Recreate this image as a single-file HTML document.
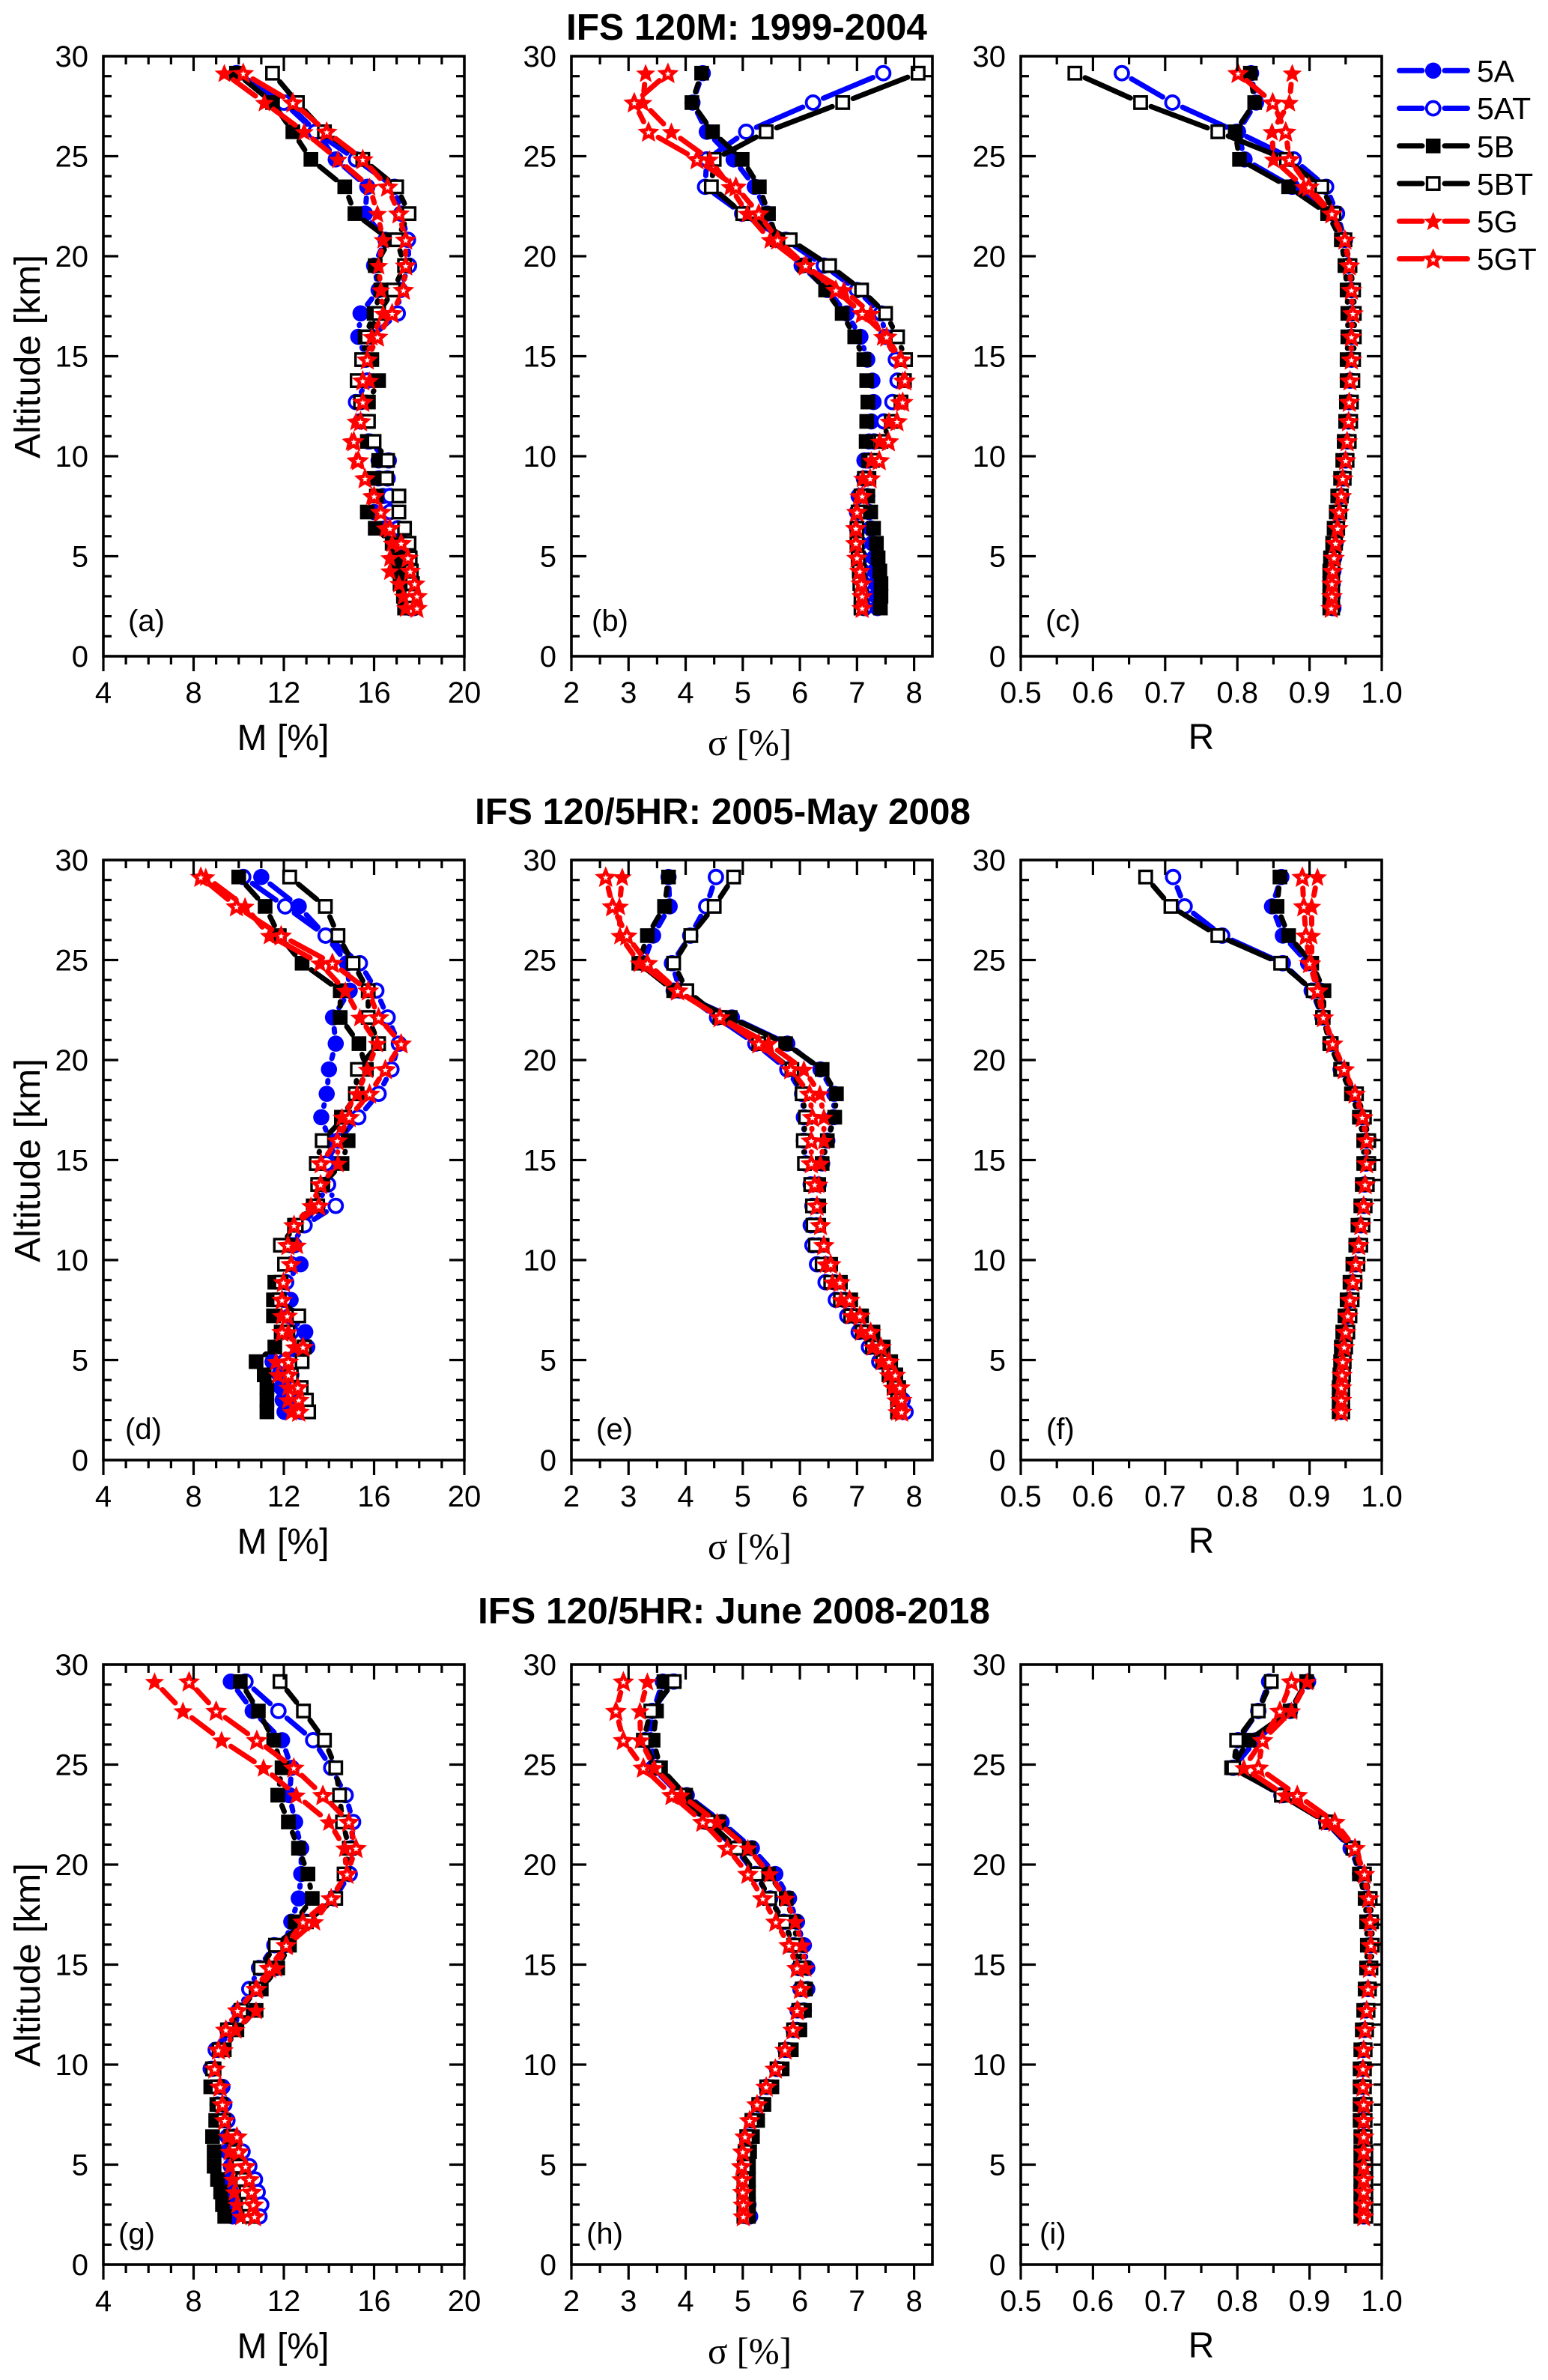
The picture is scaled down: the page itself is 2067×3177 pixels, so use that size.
<!DOCTYPE html>
<html lang="en">
<head>
<meta charset="utf-8">
<title>IFS validation profiles</title>
<style>
html,body{margin:0;padding:0;background:#fff;}
svg{display:block;}
text{font-family:"Liberation Sans",Arial,sans-serif;fill:#000;}
.tick{font-size:40px;}
.title{font-size:49px;font-weight:bold;}
.xl{font-size:48px;}
.sig{font-family:"Liberation Serif",serif;font-size:50px;}
.pl{font-size:40px;}
.leg{font-size:41px;}
</style>
</head>
<body>
<svg id="figure" xmlns="http://www.w3.org/2000/svg" width="2067" height="3177" viewBox="0 0 2067 3177">
  <rect x="0" y="0" width="2067" height="3177" fill="#fff"/>
  <g id="plots"></g>

  <text class="title" x="997" y="53" text-anchor="middle" textLength="482" lengthAdjust="spacingAndGlyphs">IFS 120M: 1999-2004</text>
  <text class="title" x="965" y="1100" text-anchor="middle" textLength="662" lengthAdjust="spacingAndGlyphs">IFS 120/5HR: 2005-May 2008</text>
  <text class="title" x="980" y="2167" text-anchor="middle" textLength="684" lengthAdjust="spacingAndGlyphs">IFS 120/5HR: June 2008-2018</text>

  <text class="xl" transform="translate(53 476) rotate(-90)" text-anchor="middle" textLength="272" lengthAdjust="spacingAndGlyphs">Altitude [km]</text>
  <text class="xl" transform="translate(53 1549) rotate(-90)" text-anchor="middle" textLength="272" lengthAdjust="spacingAndGlyphs">Altitude [km]</text>
  <text class="xl" transform="translate(53 2623) rotate(-90)" text-anchor="middle" textLength="272" lengthAdjust="spacingAndGlyphs">Altitude [km]</text>

  <text class="xl" x="378" y="1001" text-anchor="middle" textLength="123" lengthAdjust="spacingAndGlyphs">M [%]</text>
  <text class="xl" x="378" y="2074" text-anchor="middle" textLength="123" lengthAdjust="spacingAndGlyphs">M [%]</text>
  <text class="xl" x="378" y="3148" text-anchor="middle" textLength="123" lengthAdjust="spacingAndGlyphs">M [%]</text>

  <text class="sig" x="1001" y="1008" text-anchor="middle" textLength="112" lengthAdjust="spacingAndGlyphs">σ [%]</text>
  <text class="sig" x="1001" y="2081" text-anchor="middle" textLength="112" lengthAdjust="spacingAndGlyphs">σ [%]</text>
  <text class="sig" x="1001" y="3155" text-anchor="middle" textLength="112" lengthAdjust="spacingAndGlyphs">σ [%]</text>

  <text class="xl" x="1604" y="1000" text-anchor="middle">R</text>
  <text class="xl" x="1604" y="2073" text-anchor="middle">R</text>
  <text class="xl" x="1604" y="3147" text-anchor="middle">R</text>

  <text class="pl" x="171" y="842">(a)</text>
  <text class="pl" x="790" y="842">(b)</text>
  <text class="pl" x="1396" y="842">(c)</text>
  <text class="pl" x="167" y="1921">(d)</text>
  <text class="pl" x="796" y="1921">(e)</text>
  <text class="pl" x="1397" y="1921">(f)</text>
  <text class="pl" x="158" y="2995">(g)</text>
  <text class="pl" x="783" y="2995">(h)</text>
  <text class="pl" x="1388" y="2995">(i)</text>

  <g id="legend">
    <text class="leg" x="1972" y="109">5A</text>
    <text class="leg" x="1972" y="159">5AT</text>
    <text class="leg" x="1972" y="210">5B</text>
    <text class="leg" x="1972" y="260">5BT</text>
    <text class="leg" x="1972" y="310">5G</text>
    <text class="leg" x="1972" y="360">5GT</text>
  </g>
</svg>

<script>
// Shared altitude levels (km)
const levels=[29.15,27.68,26.22,24.84,23.47,22.13,20.82,19.53,18.31,17.14,15.97,14.83,13.78,12.71,11.74,10.74,9.79,8.89,8.01,7.21,6.40,5.65,4.92,4.26,3.63,3.00,2.41];

// Panel (a) M [%], 1999-2004
const a5A=[9.9,12.1,13.45,14.3,15.7,15.6,16.5,16.0,16.2,15.4,15.3,15.65,15.7,15.4,15.4,15.8,16.2,16.2,16.4,16.0,16.5,16.9,17.05,17.1,17.2,17.35,17.6];
const a5AT=[9.9,12.0,13.4,15.2,16.9,17.2,17.5,17.55,17.15,17.05,15.9,15.6,15.7,15.2,15.4,15.75,16.65,16.6,16.7,16.7,17.05,17.3,17.45,17.5,17.6,17.65,17.75];
const a5B=[9.9,11.5,12.4,13.2,14.7,15.15,16.7,16.05,16.3,16.0,15.6,15.9,16.2,15.75,15.6,15.7,16.2,16.0,16.1,15.7,16.05,16.8,17.0,17.1,17.15,17.3,17.35];
const a5BT=[11.5,12.6,13.8,15.5,17.0,17.55,17.0,17.35,16.85,16.2,15.7,15.45,15.25,15.4,15.75,16.0,16.6,16.55,17.1,17.1,17.35,17.55,17.6,17.65,17.7,17.65,17.6];
const a5G=[9.36,11.14,12.9,14.4,15.8,16.15,16.4,16.2,16.3,16.4,15.9,15.7,15.8,15.5,15.2,15.0,15.2,15.6,15.9,16.25,16.5,16.8,16.7,16.7,17.1,17.3,17.4];
const a5GT=[10.2,12.4,13.9,15.5,16.6,17.1,17.4,17.4,17.3,16.8,16.15,15.7,15.5,15.5,15.4,15.1,15.3,15.6,16.0,16.3,16.7,17.2,17.5,17.6,17.8,17.9,17.9];

// Panel (b) sigma [%], 1999-2004
const b5A=[4.3,4.12,4.37,4.84,5.21,5.43,5.6,6.03,6.48,6.82,7.06,7.18,7.27,7.29,7.25,7.21,7.13,7.15,7.18,7.21,7.24,7.27,7.3,7.31,7.33,7.34,7.36];
const b5AT=[7.46,6.23,5.06,4.37,4.34,4.99,5.75,6.42,7.0,7.42,7.5,7.68,7.71,7.62,7.47,7.3,7.2,7.12,7.03,7.0,7.0,7.04,7.06,7.09,7.11,7.12,7.13];
const b5B=[4.28,4.11,4.47,4.99,5.29,5.45,5.6,6.08,6.45,6.74,6.96,7.12,7.17,7.19,7.17,7.16,7.2,7.21,7.19,7.24,7.29,7.34,7.37,7.4,7.42,7.42,7.41];
const b5BT=[8.07,6.75,5.41,4.5,4.45,5.0,5.83,6.52,7.08,7.5,7.71,7.85,7.83,7.77,7.6,7.42,7.27,7.13,7.07,7.02,7.0,7.0,7.02,7.04,7.05,7.07,7.07];
const b5G=[3.3,3.25,3.75,4.42,4.78,5.08,5.48,6.07,6.77,7.24,7.45,7.74,7.8,7.74,7.56,7.4,7.25,7.1,7.03,6.98,6.97,6.97,7.0,7.03,7.06,7.08,7.08];
const b5GT=[3.69,3.1,3.35,4.2,4.88,5.28,5.61,6.1,6.63,7.09,7.52,7.77,7.84,7.8,7.7,7.55,7.39,7.23,7.09,7.0,6.98,6.98,7.0,7.05,7.08,7.09,7.09];

// Panel (c) R, 1999-2004
const c5A=[.819,.826,.801,.81,.876,.933,.948,.953,.958,.958,.958,.958,.957,.955,.954,.953,.95,.947,.944,.941,.936,.936,.933,.932,.931,.932,.932];
const c5AT=[.64,.71,.799,.878,.923,.938,.949,.954,.958,.959,.958,.958,.956,.955,.954,.953,.95,.947,.944,.941,.938,.936,.934,.933,.932,.932,.933];
const c5B=[.818,.824,.797,.803,.871,.925,.944,.949,.952,.953,.953,.952,.952,.951,.95,.948,.946,.943,.939,.937,.934,.932,.929,.928,.928,.928,.928];
const c5BT=[.575,.666,.773,.868,.917,.934,.949,.956,.961,.962,.962,.961,.96,.958,.957,.955,.952,.948,.944,.942,.939,.936,.933,.932,.932,.932,.932];
const c5G=[.876,.872,.848,.85,.892,.93,.949,.955,.958,.959,.958,.957,.956,.955,.954,.952,.949,.946,.943,.941,.938,.936,.934,.932,.931,.93,.93];
const c5GT=[.801,.849,.867,.872,.899,.931,.949,.955,.958,.96,.958,.958,.956,.955,.954,.952,.95,.946,.944,.941,.939,.936,.934,.932,.931,.931,.93];

// Panel (d) M [%], 2005-May 2008
const d5A=[11.0,12.66,13.85,14.8,14.92,14.18,14.3,14.0,13.9,13.66,14.03,14.1,13.9,13.5,12.85,12.47,12.74,12.1,12.3,12.25,12.95,13.04,11.5,11.8,11.88,11.95,12.03];
const d5AT=[10.2,12.06,13.85,15.37,16.1,16.6,17.1,16.77,16.2,15.3,14.4,13.88,13.96,14.3,12.92,12.33,12.33,12.1,12.03,12.33,12.33,12.85,12.03,12.33,12.5,12.7,12.78];
const d5B=[10.0,11.17,11.8,12.81,14.5,14.5,15.33,15.66,15.25,14.55,14.85,14.58,13.73,13.3,12.47,12.18,12.03,11.6,11.54,11.54,11.88,11.6,10.77,11.13,11.25,11.25,11.25];
const d5BT=[12.26,13.84,14.4,15.07,15.74,15.74,16.2,15.26,15.17,14.7,13.7,13.44,13.5,13.5,12.55,11.85,12.03,11.88,11.8,12.66,12.18,12.9,12.81,12.33,12.77,13.0,13.1];
const d5G=[8.54,10.28,11.36,13.6,14.73,15.37,16.14,15.7,15.25,14.58,14.37,14.4,13.65,13.2,12.47,12.6,12.33,11.98,11.9,11.9,12.2,12.47,11.65,11.73,12.18,12.18,12.33];
const d5GT=[8.32,9.9,11.88,14.15,15.74,16.2,17.2,16.5,15.8,14.9,14.37,13.65,13.63,13.55,12.45,12.18,12.33,11.98,11.92,12.15,11.92,12.85,12.2,12.2,12.62,12.66,12.66];

// Panel (e) sigma [%], 2005-May 2008
const e5A=[3.7,3.72,3.43,3.26,3.79,4.81,5.78,6.36,6.6,6.59,6.48,6.39,6.33,6.3,6.29,6.33,6.45,6.6,6.77,6.95,7.15,7.33,7.5,7.62,7.71,7.77,7.8];
const e5AT=[4.53,4.36,4.08,3.76,3.9,4.55,5.22,5.78,6.04,6.07,6.07,6.1,6.19,6.22,6.19,6.22,6.3,6.45,6.63,6.83,7.03,7.21,7.39,7.6,7.68,7.8,7.85];
const e5B=[3.7,3.63,3.33,3.18,3.79,4.78,5.75,6.39,6.64,6.61,6.48,6.39,6.33,6.33,6.33,6.39,6.54,6.71,6.89,7.08,7.28,7.46,7.59,7.68,7.73,7.74,7.74];
const e5BT=[4.84,4.5,4.09,3.79,4.02,4.6,5.28,5.86,6.04,6.1,6.06,6.08,6.19,6.22,6.23,6.27,6.39,6.54,6.71,6.89,7.09,7.27,7.45,7.56,7.65,7.71,7.71];
const e5G=[2.89,2.84,2.85,3.19,3.84,4.6,5.45,6.07,6.35,6.42,6.42,6.36,6.33,6.3,6.36,6.41,6.45,6.57,6.72,6.9,7.07,7.27,7.43,7.55,7.62,7.68,7.7];
const e5GT=[2.6,2.72,2.97,3.33,3.86,4.6,5.28,5.84,6.17,6.22,6.2,6.2,6.26,6.3,6.36,6.42,6.54,6.7,6.87,7.05,7.24,7.42,7.56,7.67,7.75,7.78,7.78];

// Panel (f) R, 2005-May 2008
const f5A=[.861,.848,.863,.898,.915,.918,.929,.943,.961,.973,.979,.978,.977,.975,.971,.967,.963,.96,.956,.952,.949,.947,.945,.944,.943,.943,.944];
const f5AT=[.711,.727,.779,.863,.903,.918,.929,.944,.962,.973,.979,.978,.976,.975,.971,.968,.964,.96,.956,.953,.95,.948,.946,.945,.944,.944,.944];
const f5B=[.859,.855,.871,.903,.92,.919,.928,.943,.958,.969,.975,.975,.973,.971,.967,.964,.96,.956,.952,.949,.946,.944,.943,.942,.941,.941,.941];
const f5BT=[.673,.708,.773,.86,.905,.918,.93,.945,.965,.976,.982,.982,.98,.977,.974,.971,.967,.963,.959,.956,.953,.95,.948,.947,.946,.946,.946];
const f5G=[.911,.903,.903,.903,.913,.92,.933,.948,.963,.975,.979,.979,.977,.975,.971,.968,.964,.96,.956,.953,.95,.948,.946,.945,.944,.944,.944];
const f5GT=[.89,.892,.895,.9,.911,.919,.932,.948,.963,.973,.979,.979,.977,.975,.971,.968,.964,.96,.956,.953,.95,.948,.946,.945,.944,.944,.944];

// Panel (g) M [%], June 2008-2018
const g5A=[9.65,10.62,11.92,12.35,12.25,12.5,12.77,12.77,12.66,12.33,12.03,11.66,10.7,10.17,9.65,9.06,8.84,9.28,9.06,9.36,9.5,9.5,9.65,9.5,9.65,9.73,9.73];
const g5AT=[10.3,11.76,13.3,14.1,14.74,15.07,15.0,14.92,14.25,13.0,11.58,10.9,10.47,10.0,9.5,8.98,8.76,9.2,9.36,9.5,9.8,10.17,10.47,10.72,10.84,11.0,10.92];
const g5B=[10.07,10.87,11.55,11.92,11.73,12.2,12.65,13.07,13.26,12.5,12.25,11.73,11.0,10.77,9.92,9.36,8.91,8.76,9.03,8.98,8.84,8.91,8.91,9.06,9.2,9.28,9.38];
const g5BT=[11.83,12.87,13.8,14.3,14.47,14.6,14.9,14.67,14.3,13.0,11.63,10.96,10.77,10.1,9.5,9.13,8.84,9.06,9.2,9.33,9.65,9.8,10.0,10.17,10.32,10.4,10.47];
const g5G=[6.27,7.53,9.24,11.1,12.55,14.0,14.7,14.77,14.1,13.36,12.15,11.66,10.84,10.77,9.87,9.36,8.94,9.13,9.24,9.36,9.5,9.58,9.62,9.73,9.8,9.92,10.1];
const g5GT=[7.8,9.0,10.8,12.44,13.73,14.88,15.2,14.8,14.1,12.85,12.1,11.36,10.77,9.95,9.43,9.1,8.94,9.18,9.28,9.38,9.92,10.0,10.3,10.47,10.57,10.65,10.7];

// Panel (h) sigma [%], June 2008-2018
const h5A=[3.6,3.43,3.38,3.49,4.02,4.63,5.16,5.57,5.81,5.95,6.07,6.13,6.13,6.07,5.95,5.78,5.6,5.42,5.28,5.16,5.08,5.04,5.04,5.07,5.08,5.1,5.13];
const h5AT=[3.79,3.41,3.29,3.43,3.9,4.37,4.87,5.22,5.48,5.72,5.89,5.98,6.01,5.96,5.89,5.75,5.6,5.42,5.28,5.16,5.07,5.04,5.03,5.04,5.06,5.07,5.08];
const h5B=[3.62,3.49,3.43,3.56,4.0,4.58,5.1,5.45,5.76,5.89,5.96,6.07,6.1,6.08,6.0,5.85,5.69,5.51,5.37,5.26,5.17,5.12,5.1,5.1,5.1,5.1,5.1];
const h5BT=[3.8,3.39,3.26,3.49,3.9,4.4,4.9,5.24,5.47,5.72,5.89,6.01,6.04,5.98,5.89,5.75,5.6,5.42,5.28,5.16,5.07,5.04,5.03,5.02,5.02,5.02,5.02];
const h5G=[3.33,3.2,3.21,3.45,3.92,4.55,5.09,5.47,5.75,5.92,6.04,6.1,6.04,5.98,5.88,5.75,5.58,5.41,5.25,5.12,5.04,5.0,4.98,4.99,5.0,5.01,5.01];
const h5GT=[2.91,2.78,2.91,3.26,3.76,4.3,4.73,5.09,5.35,5.58,5.81,5.95,6.01,5.95,5.88,5.74,5.57,5.41,5.25,5.12,5.04,5.0,4.98,4.99,5.0,5.01,5.01];

// Panel (i) R, June 2008-2018
const i5A=[.898,.873,.826,.794,.863,.923,.957,.97,.98,.983,.984,.983,.981,.978,.976,.974,.973,.973,.974,.975,.975,.975,.975,.975,.975,.975,.975];
const i5AT=[.844,.829,.801,.794,.861,.923,.957,.97,.98,.983,.984,.983,.981,.978,.976,.974,.973,.973,.974,.975,.975,.975,.975,.975,.975,.975,.975];
const i5B=[.896,.873,.816,.792,.863,.925,.96,.969,.977,.979,.98,.979,.977,.975,.973,.971,.97,.97,.97,.97,.971,.971,.971,.971,.971,.971,.971];
const i5BT=[.847,.829,.799,.795,.861,.923,.96,.976,.984,.986,.987,.985,.983,.981,.979,.977,.976,.976,.977,.977,.977,.978,.978,.978,.978,.978,.978];
const i5G=[.897,.875,.835,.809,.866,.924,.962,.975,.981,.984,.984,.983,.981,.979,.976,.975,.974,.974,.975,.975,.975,.975,.975,.975,.975,.975,.975];
const i5GT=[.875,.859,.835,.829,.883,.935,.963,.976,.982,.984,.985,.983,.981,.979,.977,.975,.974,.974,.975,.975,.975,.975,.975,.975,.975,.975,.975];

// Axis tick values and labels
const altitudeTicks=[0,5,10,15,20,25,30];
const mTicks=[4,8,12,16,20];
const sigmaTicks=[2,3,4,5,6,7,8];
const rTicks=[0.5,0.6,0.7,0.8,0.9,1.0];
const rTickLabels=['0.5','0.6','0.7','0.8','0.9','1.0'];
const seriesNames=['5A','5AT','5B','5BT','5G','5GT'];
const seriesColors=['#0000ff','#0000ff','#000000','#000000','#ff0000','#ff0000'];

const NS='http://www.w3.org/2000/svg';
const AXW=3.6, LINEW=7, GAP=15;
const plots=document.getElementById('plots');
const legendGroup=document.getElementById('legend');

function mk(tag,attrs,parent){
  const el=document.createElementNS(NS,tag);
  for(const k in attrs) el.setAttribute(k,attrs[k]);
  parent.appendChild(el);
  return el;
}
function starPoints(cx,cy,R,ratio){
  const r=R*ratio,pts=[];
  for(let i=0;i<10;i++){
    const a=-Math.PI/2+i*Math.PI/5,q=i%2?r:R;
    pts.push((cx+q*Math.cos(a)).toFixed(1)+','+(cy+q*Math.sin(a)).toFixed(1));
  }
  return pts.join(' ');
}
function drawMarker(kind,cx,cy,color,parent,scale){
  const s=scale||1;
  if(kind==='5A'){
    const el=mk('circle',{cx:cx,cy:cy,r:10.8*s,fill:color},parent);
    
    
  }else if(kind==='5AT'){
    const el=mk('circle',{cx:cx,cy:cy,r:9*s,fill:'#fff',stroke:color,'stroke-width':3.8},parent);
    
    
  }else if(kind==='5B'){
    const el=mk('rect',{x:cx-9.8*s,y:cy-9.8*s,width:19.6*s,height:19.6*s,fill:color},parent);
    
    
  }else if(kind==='5BT'){
    const el=mk('rect',{x:cx-8.2*s,y:cy-8.2*s,width:16.4*s,height:16.4*s,fill:'#fff',stroke:color,'stroke-width':3.4},parent);
    
    
  }else if(kind==='5G'){
    const el=mk('polygon',{points:starPoints(cx,cy+1,13.5*s,0.44),fill:color},parent);
    
    
  }else{
    const el=mk('polygon',{points:starPoints(cx,cy+1,13.5*s,0.46),fill:color,stroke:color,'stroke-width':1.4},parent);
    
    
    const inner=mk('polygon',{points:starPoints(cx,cy+1,4.2*s,0.44),fill:'#fff'},parent);
    
    
  }
}

const rowTops=[75,1148,2222];
const PH=801;
const colDefs=[
  {l:138,r:620,min:4,max:20,ticks:mTicks,labels:null,minorStep:1},
  {l:763,r:1245,min:2,max:8.32,ticks:sigmaTicks,labels:null,minorStep:0.5},
  {l:1363,r:1845,min:0.5,max:1,ticks:rTicks,labels:rTickLabels,minorStep:0.05}
];
const panelData=[
  {id:'a',row:0,col:0,s:[a5A,a5AT,a5B,a5BT,a5G,a5GT]},
  {id:'b',row:0,col:1,s:[b5A,b5AT,b5B,b5BT,b5G,b5GT]},
  {id:'c',row:0,col:2,s:[c5A,c5AT,c5B,c5BT,c5G,c5GT]},
  {id:'d',row:1,col:0,s:[d5A,d5AT,d5B,d5BT,d5G,d5GT]},
  {id:'e',row:1,col:1,s:[e5A,e5AT,e5B,e5BT,e5G,e5GT]},
  {id:'f',row:1,col:2,s:[f5A,f5AT,f5B,f5BT,f5G,f5GT]},
  {id:'g',row:2,col:0,s:[g5A,g5AT,g5B,g5BT,g5G,g5GT]},
  {id:'h',row:2,col:1,s:[h5A,h5AT,h5B,h5BT,h5G,h5GT]},
  {id:'i',row:2,col:2,s:[i5A,i5AT,i5B,i5BT,i5G,i5GT]}
];

function drawPanel(p){
  const c=colDefs[p.col], top=rowTops[p.row], bot=top+PH;
  const sx=v=>c.l+(v-c.min)/(c.max-c.min)*(c.r-c.l);
  const sy=v=>bot-v/30*PH;
  const g=mk('g',{},plots);
  
  

  // series
  p.s.forEach((vals,si)=>{
    const name=seriesNames[si], color=seriesColors[si];
    const sg=mk('g',{},g);
    
    
    const pts=vals.map((v,i)=>[sx(v),sy(levels[i])]);
    for(let i=0;i<pts.length-1;i++){
      const a=pts[i],b=pts[i+1];
      const dx=b[0]-a[0],dy=b[1]-a[1],L=Math.hypot(dx,dy);
      if(!(L>2*GAP)) continue;
      const ux=dx/L,uy=dy/L;
      const seg=mk('line',{x1:a[0]+ux*GAP,y1:a[1]+uy*GAP,x2:b[0]-ux*GAP,y2:b[1]-uy*GAP,stroke:color,'stroke-width':LINEW,'stroke-linecap':'round'},sg);
      
      
    }
    pts.forEach(pt=>{
      if(isFinite(pt[0])) drawMarker(name,pt[0],pt[1],color,sg);
    });
  });

  // frame
  const frame=mk('rect',{x:c.l,y:top,width:c.r-c.l,height:PH,fill:'none',stroke:'#000','stroke-width':AXW},g);
  
  

  // y ticks
  for(let v=1;v<30;v++){
    const major=v%5===0, len=major?20:11, y=sy(v);
    const t1=mk('line',{x1:c.l,y1:y,x2:c.l+len,y2:y,stroke:'#000','stroke-width':3.2},g);
    
    
    const t2=mk('line',{x1:c.r,y1:y,x2:c.r-len,y2:y,stroke:'#000','stroke-width':3.2},g);
    
    
  }
  altitudeTicks.forEach(v=>{
    const lab=mk('text',{x:c.l-20,y:sy(v)+14,'text-anchor':'end',class:'tick'},g);
    lab.textContent=String(v);
    
    
  });

  // x ticks
  const n=Math.floor((c.ticks[c.ticks.length-1]-c.min)/c.minorStep+0.001);
  const majorEvery=Math.round((c.ticks[1]-c.ticks[0])/c.minorStep);
  for(let i=0;i<=n;i++){
    const v=c.min+i*c.minorStep, x=sx(v), major=i%majorEvery===0, len=major?20:11;
    const t1=mk('line',{x1:x,y1:bot,x2:x,y2:bot+len,stroke:'#000','stroke-width':3.2},g);
    
    
    if(i>0&&x<c.r-1){
      const t2=mk('line',{x1:x,y1:top,x2:x,y2:top+len,stroke:'#000','stroke-width':3.2},g);
      
      
    }
  }
  c.ticks.forEach((v,i)=>{
    const lab=mk('text',{x:sx(v),y:bot+62,'text-anchor':'middle',class:'tick'},g);
    lab.textContent=c.labels?c.labels[i]:String(v);
    
    
  });
}
panelData.forEach(drawPanel);

// legend swatches
seriesNames.forEach((name,i)=>{
  const y=94.3+i*50.25, color=seriesColors[i];
  const e=mk('g',{},legendGroup);
  
  
  const l1=mk('line',{x1:1868.5,y1:y,x2:1899,y2:y,stroke:color,'stroke-width':LINEW,'stroke-linecap':'round'},e);
  
  
  const l2=mk('line',{x1:1929,y1:y,x2:1959.5,y2:y,stroke:color,'stroke-width':LINEW,'stroke-linecap':'round'},e);
  
  
  drawMarker(name,1913.7,y,color,e);
});
</script>
</body>
</html>
